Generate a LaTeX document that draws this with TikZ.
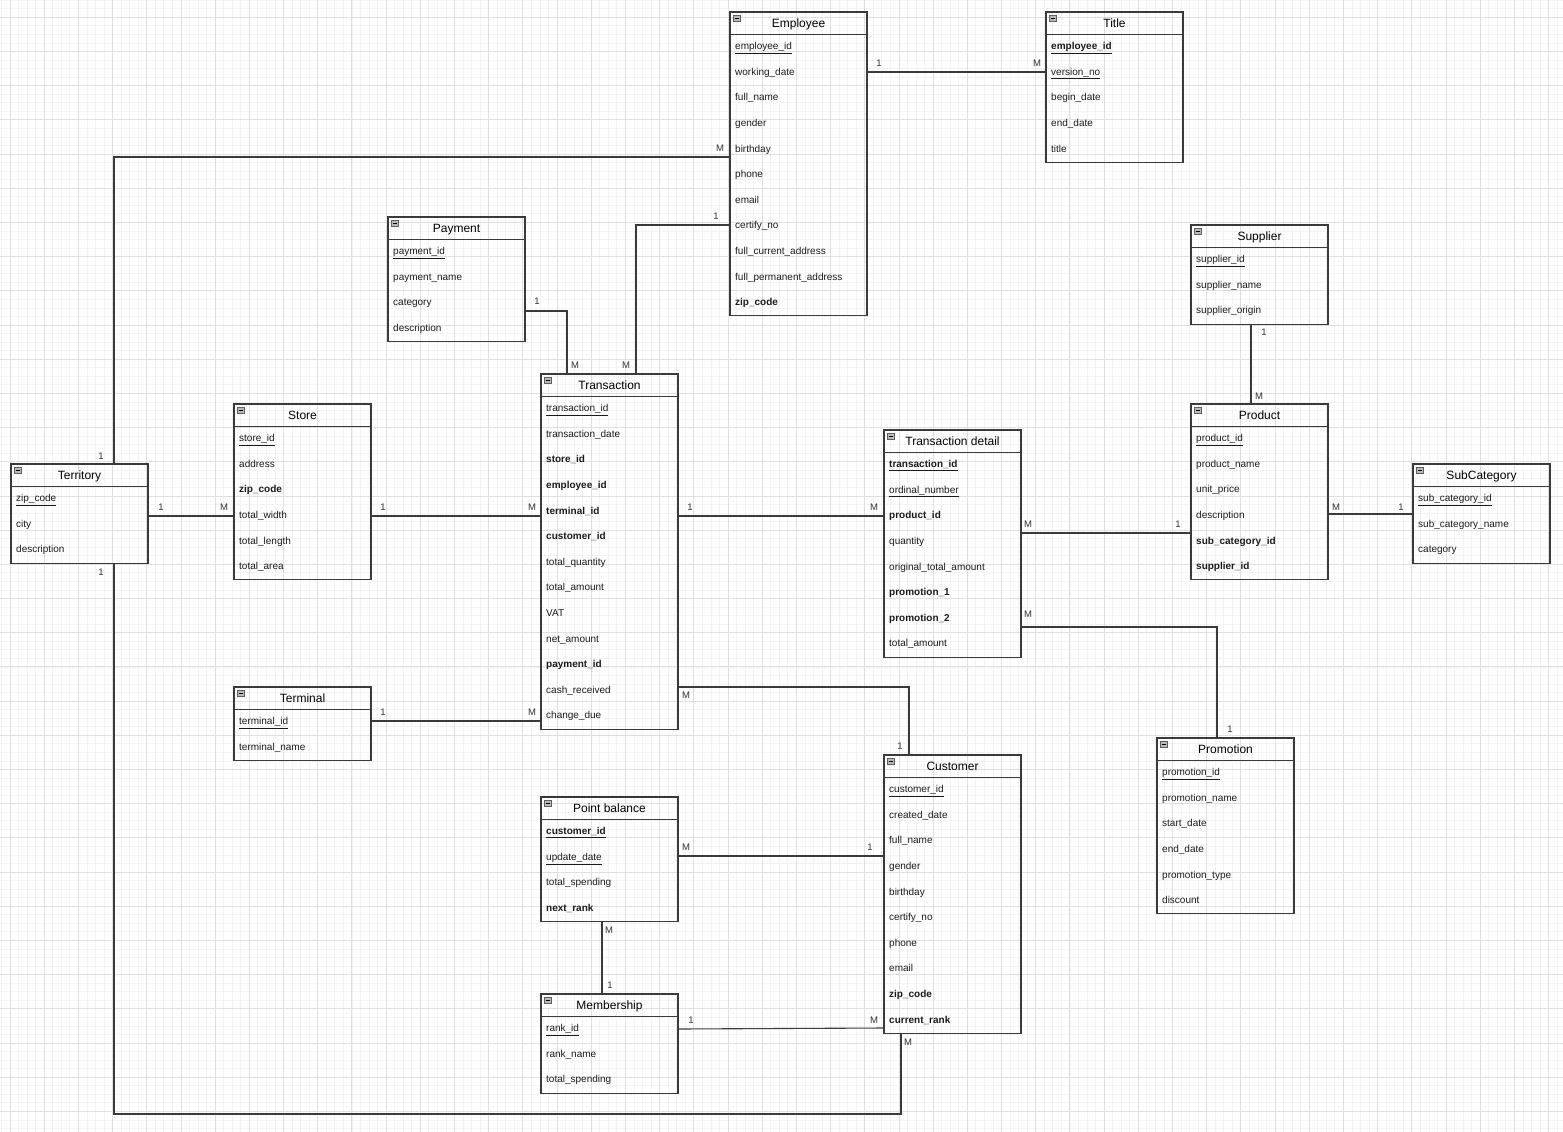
\documentclass[tikz,border=0pt]{standalone}
\usepackage{fontspec}
\setmainfont{Liberation Sans}
\usetikzlibrary{calc}
\definecolor{lineC}{HTML}{3A3A3A}
\definecolor{minorC}{HTML}{F3F3F3}
\definecolor{majorC}{HTML}{DFDFDF}
\definecolor{txtC}{HTML}{1A1A1A}
\definecolor{labC}{HTML}{333333}
\newcommand{\erpk}[1]{\underline{#1}}
\newcommand{\erfk}[1]{\textbf{#1}}
\newcommand{\erbu}[1]{\textbf{\underline{#1}}}
\tikzset{
  entbox/.style={draw=lineC, line width=1.1pt, inner sep=0pt, outer sep=0pt, minimum width=137pt},
  boxline/.style={draw=lineC, line width=1.1pt},
  conn/.style={draw=lineC, line width=1.1pt},
  titletext/.style={anchor=base, inner sep=0pt, font=\fontsize{12}{14}\selectfont, text=black},
  fieldtext/.style={anchor=base west, inner sep=0pt, font=\fontsize{10}{12}\selectfont, text=txtC},
  labtext/.style={anchor=base, inner sep=0pt, font=\fontsize{9.5}{11}\selectfont, text=labC},
  iconbox/.style={fill=gray!55, draw=gray!75!black, line width=0.6pt},
  iconbar/.style={draw=black, line width=0.9pt},
  minorgrid/.style={draw=minorC, line width=0.8pt},
  majorgrid/.style={draw=majorC, line width=0.9pt}
}
\newcommand{\erent}[6]{%
  \pgfmathsetmacro\erenth{22.3+#4*25.6}%
  \node[entbox, minimum height=\erenth pt, anchor=north west] (#1) at (#2,#3) {};%
  \draw[boxline] (#2,#3+22.3) -- (#2+137,#3+22.3);%
  \draw[iconbox] (#2+3.3,#3+3.5) rectangle (#2+10,#3+9.5);%
  \draw[iconbar] (#2+4.6,#3+6.5) -- (#2+8.7,#3+6.5);%
  \node[titletext] (#1-t) at (#2+68.5,#3+15.3) {#5};%
  \foreach \f [count=\k] in {#6} {%
    \node[fieldtext] (#1-\k) at (#2+5,#3+21.3+\k*25.6-12.8+3.6) {\f};%
  }%
}
\begin{document}
\begin{tikzpicture}[x=1pt,y=-1pt]
\useasboundingbox (0,0) rectangle (1563,1132);
% grid
\foreach \i in {-1,...,182} {\draw[minorgrid] ({10+\i*8.5475},0) -- ({10+\i*8.5475},1132);}
\foreach \j in {-2,...,130} {\draw[minorgrid] (0,{17.3+\j*8.5475}) -- (1563,{17.3+\j*8.5475});}
\foreach \i in {0,...,45} {\draw[majorgrid] ({10+\i*34.19},0) -- ({10+\i*34.19},1132);}
\foreach \j in {0,...,32} {\draw[majorgrid] (0,{17.3+\j*34.19}) -- (1563,{17.3+\j*34.19});}

% entities
\erent{emp}{730}{12}{11}{Employee}{{\erpk{employee\_id}},working\_date,full\_name,gender,birthday,phone,email,certify\_no,full\_current\_address,full\_permanent\_address,{\erfk{zip\_code}}}
\erent{tit}{1046}{12}{5}{Title}{{\erbu{employee\_id}},{\erpk{version\_no}},begin\_date,end\_date,title}
\erent{pay}{388}{217}{4}{Payment}{{\erpk{payment\_id}},payment\_name,category,description}
\erent{trn}{541}{374}{13}{Transaction}{{\erpk{transaction\_id}},transaction\_date,{\erfk{store\_id}},{\erfk{employee\_id}},{\erfk{terminal\_id}},{\erfk{customer\_id}},total\_quantity,total\_amount,VAT,net\_amount,{\erfk{payment\_id}},cash\_received,change\_due}
\erent{sto}{234}{404}{6}{Store}{{\erpk{store\_id}},address,{\erfk{zip\_code}},total\_width,total\_length,total\_area}
\erent{ter}{11}{464}{3}{Territory}{{\erpk{zip\_code}},city,description}
\erent{trm}{234}{687}{2}{Terminal}{{\erpk{terminal\_id}},terminal\_name}
\erent{td}{884}{430}{8}{Transaction detail}{{\erbu{transaction\_id}},{\erpk{ordinal\_number}},{\erfk{product\_id}},quantity,original\_total\_amount,{\erfk{promotion\_1}},{\erfk{promotion\_2}},total\_amount}
\erent{sup}{1191}{225}{3}{Supplier}{{\erpk{supplier\_id}},supplier\_name,supplier\_origin}
\erent{prd}{1191}{404}{6}{Product}{{\erpk{product\_id}},product\_name,unit\_price,description,{\erfk{sub\_category\_id}},{\erfk{supplier\_id}}}
\erent{sub}{1413}{464}{3}{SubCategory}{{\erpk{sub\_category\_id}},sub\_category\_name,category}
\erent{pro}{1157}{738}{6}{Promotion}{{\erpk{promotion\_id}},promotion\_name,start\_date,end\_date,promotion\_type,discount}
\erent{cus}{884}{755}{10}{Customer}{{\erpk{customer\_id}},created\_date,full\_name,gender,birthday,certify\_no,phone,email,{\erfk{zip\_code}},{\erfk{current\_rank}}}
\erent{pb}{541}{797}{4}{Point balance}{{\erbu{customer\_id}},{\erpk{update\_date}},total\_spending,{\erfk{next\_rank}}}
\erent{mem}{541}{994}{3}{Membership}{{\erpk{rank\_id}},rank\_name,total\_spending}

% connectors
\draw[conn] (emp.east |- 0,72) -- (tit.west |- 0,72);
\draw[conn] (114,0 |- ter.north) |- (emp.west |- 0,157);
\draw[conn] (emp.west |- 0,225) -| (636,0 |- trn.north);
\draw[conn] (pay.east |- 0,311) -| (567,0 |- trn.north);
\draw[conn] (ter.east |- 0,516) -- (sto.west |- 0,516);
\draw[conn] (sto.east |- 0,516) -- (trn.west |- 0,516);
\draw[conn] (trn.east |- 0,516) -- (td.west |- 0,516);
\draw[conn] (trm.east |- 0,721) -- (trn.west |- 0,721);
\draw[conn] (trn.east |- 0,687) -| (909,0 |- cus.north);
\draw[conn] (td.east |- 0,533) -- (prd.west |- 0,533);
\draw[conn] (td.east |- 0,627) -| (1217,0 |- pro.north);
\draw[conn] (1251,0 |- sup.south) -- (1251,0 |- prd.north);
\draw[conn] (prd.east |- 0,514) -- (sub.west |- 0,514);
\draw[conn] (pb.east |- 0,856) -- (cus.west |- 0,856);
\draw[conn] (602,0 |- pb.south) -- (602,0 |- mem.north);
\draw[conn] (mem.east |- 0,1029) -- (cus.west |- 0,1028);
\draw[conn] (114,0 |- ter.south) |- (901,1114) -- (901,0 |- cus.south);

% cardinality labels
\node[labtext] (la1) at (879,66.5) {1};
\node[labtext] (lb1) at (1037,66.5) {M};
\node[labtext] (la2) at (101,459.5) {1};
\node[labtext] (lb2) at (720,151.5) {M};
\node[labtext] (la3) at (716,219.5) {1};
\node[labtext] (lb3) at (626,368.5) {M};
\node[labtext] (la4) at (537,304.5) {1};
\node[labtext] (lb4) at (575,368.5) {M};
\node[labtext] (la5) at (161,510.5) {1};
\node[labtext] (lb5) at (224,510.5) {M};
\node[labtext] (la6) at (383,510.5) {1};
\node[labtext] (lb6) at (532,510.5) {M};
\node[labtext] (la7) at (690,510.5) {1};
\node[labtext] (lb7) at (874,510.5) {M};
\node[labtext] (la8) at (383,715.5) {1};
\node[labtext] (lb8) at (532,715.5) {M};
\node[labtext] (lb9) at (686,698.5) {M};
\node[labtext] (la9) at (900,749.5) {1};
\node[labtext] (lb10) at (1028,527.5) {M};
\node[labtext] (la10) at (1178,527.5) {1};
\node[labtext] (lb11) at (1028,617.5) {M};
\node[labtext] (la11) at (1230,732.5) {1};
\node[labtext] (la12) at (1264,335.5) {1};
\node[labtext] (lb12) at (1259,399.5) {M};
\node[labtext] (lb13) at (1336,510.5) {M};
\node[labtext] (la13) at (1401,510.5) {1};
\node[labtext] (lb14) at (686,850.5) {M};
\node[labtext] (la14) at (870,850.5) {1};
\node[labtext] (lb15) at (609,933.5) {M};
\node[labtext] (la15) at (610,988.5) {1};
\node[labtext] (la16) at (691,1023.5) {1};
\node[labtext] (lb16) at (874,1023.5) {M};
\node[labtext] (la17) at (101,575.5) {1};
\node[labtext] (lb17) at (908,1045.5) {M};
\end{tikzpicture}
\end{document}
